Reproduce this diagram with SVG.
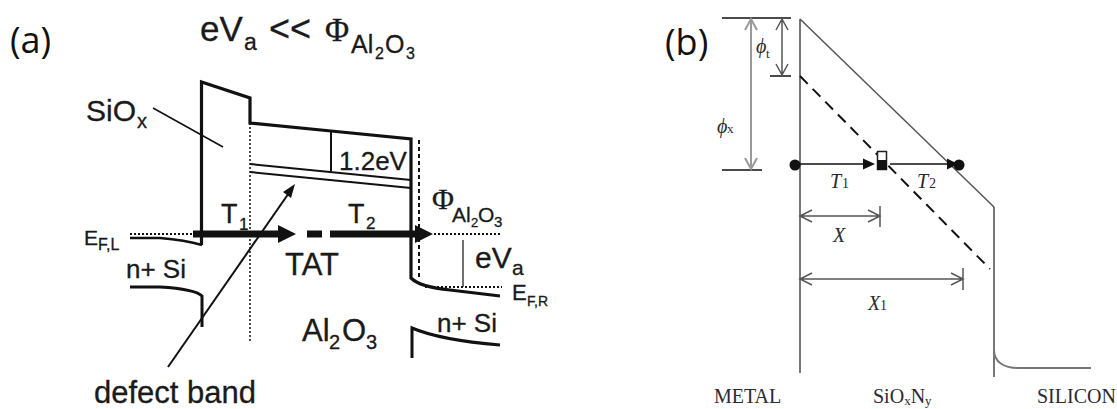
<svg xmlns="http://www.w3.org/2000/svg" width="1117" height="409" viewBox="0 0 1117 409">
<style>
.c{font-family:"Liberation Sans",Arial,sans-serif;fill:#1a1a1a;stroke:#1a1a1a;stroke-width:.3}
.p{font-family:"Liberation Serif","Times New Roman",serif;fill:#1a1a1a;stroke:#1a1a1a;stroke-width:.3}
.u{font-family:"Open Sans","Noto Sans",sans-serif;font-size:36px;fill:#111}
.t{font-family:"Liberation Serif","Times New Roman",serif;fill:#2a2a33}
.i{font-style:italic}
.k{fill:none;stroke:#111;stroke-linecap:butt;stroke-linejoin:miter}
.g{fill:none;stroke:#777;stroke-width:2}
.h{fill:none;stroke:#555;stroke-width:1.5}
.l{fill:none;stroke:#999;stroke-width:2}
</style>
<g id="panel-a">
<text class="u" x="10" y="53">(a)</text>
<text class="c" x="200" y="41" font-size="35">eV</text>
<text class="c" x="244" y="50" font-size="23">a</text>
<text class="c" x="269" y="41" font-size="36">&lt;&lt;</text>
<text class="p" x="325" y="41" font-size="33">Φ</text>
<text class="c" x="351" y="53" font-size="25">Al</text>
<text class="c" x="375" y="59" font-size="16">2</text>
<text class="c" x="385" y="53" font-size="25">O</text>
<text class="c" x="406" y="59" font-size="16">3</text>
<text class="c" x="86" y="121" font-size="30">SiO</text>
<text class="c" x="137" y="128" font-size="20">x</text>
<text class="c" x="221" y="223" font-size="27">T</text>
<text class="c" x="239" y="230" font-size="17">1</text>
<text class="c" x="348" y="223" font-size="27">T</text>
<text class="c" x="366" y="229" font-size="17">2</text>
<text class="c" x="339" y="170" font-size="26">1.2eV</text>
<text class="p" x="432" y="209" font-size="30">Φ</text>
<text class="c" x="452" y="222" font-size="21">Al</text>
<text class="c" x="471" y="227" font-size="13">2</text>
<text class="c" x="478" y="222" font-size="21">O</text>
<text class="c" x="494" y="227" font-size="15">3</text>
<text class="c" x="475" y="268" font-size="30">eV</text>
<text class="c" x="512" y="275" font-size="21">a</text>
<text class="c" x="512" y="300" font-size="22">E</text>
<text class="c" x="527" y="306" font-size="14">F,R</text>
<text class="c" x="84" y="245" font-size="21">E</text>
<text class="c" x="98" y="250" font-size="16">F,L</text>
<text class="c" x="126" y="278" font-size="26">n+ Si</text>
<text class="c" x="285" y="275" font-size="31">TAT</text>
<text class="c" x="302" y="341" font-size="31">Al</text>
<text class="c" x="329" y="349" font-size="20">2</text>
<text class="c" x="342" y="341" font-size="31">O</text>
<text class="c" x="366" y="349" font-size="20">3</text>
<text class="c" x="437" y="332" font-size="26">n+ Si</text>
<text class="c" x="94" y="402.500" font-size="31">defect band</text>
</g>
<g id="connectors-a">
<path class="k" stroke-width="3.200" d="M201.500 245V82L250 98V123L331 131L411 139V278Q420 287 450 290L500 296"/>
<path class="k" stroke-width="2" d="M250 164L411 180M250 172L411 188M331 131V171"/>
<path class="k" stroke-width="1.500" d="M153 108L223 147"/>
<path class="k" stroke-width="1.500" stroke-dasharray="2 2" d="M250 123V343"/>
<path class="k" stroke-width="2" stroke-dasharray="4 3" d="M419 140V278"/>
<path class="k" stroke-width="1.800" stroke-dasharray="2 2" d="M130 234H192M434 234H502M425 287H502"/>
<path class="k" stroke-width="2.500" d="M130 238H160Q185 240 202 245"/>
<path class="k" stroke-width="1.200" d="M463 240V287"/>
<path class="k" stroke-width="3" d="M130 287H160Q195 289 202 296V327M412 358V328Q440 340 500 345"/>
<path class="k" stroke-width="2" d="M168 367L291 190"/>
<path d="M295 184L283 192L291 198Z" fill="#111"/>
<path class="k" stroke-width="7" d="M193 234H280M307 234H322M330 234H416"/>
<path d="M278 225L296 234L278 243ZM415 225L433 234L415 243Z" fill="#111"/>
</g>
<g id="panel-b">
<text class="u" x="665" y="55">(b)</text>
<text class="t i" x="756" y="53" font-size="20">ϕ</text>
<text class="t" x="766" y="58" font-size="13">t</text>
<text class="t i" x="717" y="133" font-size="20">ϕ</text>
<text class="t" x="727" y="133" font-size="13">x</text>
<text class="t i" x="830" y="188" font-size="20">T</text>
<text class="t" x="842" y="188" font-size="14">1</text>
<text class="t i" x="917" y="188" font-size="20">T</text>
<text class="t" x="929" y="188" font-size="14">2</text>
<text class="t i" x="833" y="242" font-size="20">X</text>
<text class="t i" x="868" y="310" font-size="20">X</text>
<text class="t" x="880" y="310" font-size="14">1</text>
<text class="t" x="714" y="403" font-size="20">METAL</text>
<text class="t" x="873" y="403" font-size="20">SiO<tspan font-size="13" dy="2">x</tspan><tspan dy="-2">N</tspan><tspan font-size="13" dy="2">y</tspan></text>
<text class="t" x="1037" y="403" font-size="20">SILICON</text>
</g>
<g id="connectors-b">
<path class="g" d="M800 19V373M994 207V377M994 350C994 362 1004 368 1018 368H1091"/>
<path class="h" d="M800 19L994 207"/>
<path class="k" stroke-width="2" stroke-dasharray="11 7" d="M800 76L990 269"/>
<path class="k" stroke-width="1.300" d="M722 18H791M770 76H791M722 170H762"/>
<path class="l" d="M751 19V169M745 30L751 19L757 30M745 158L751 169L757 158"/>
<path class="h" d="M782 19V75M776 30L782 19L788 30M776 64L782 75L788 64"/>
<path class="k" stroke-width="1.300" d="M800 164H866M890 164H950"/>
<path d="M863 158.500L875 164L863 169.500ZM947 158.500L958 164L947 169.500Z" fill="#111"/>
<circle cx="795" cy="165" r="5.500" fill="#111"/>
<circle cx="959" cy="165" r="5.500" fill="#111"/>
<rect x="877.500" y="151.500" width="9" height="18" fill="#fff" stroke="#222" stroke-width="1.500"/>
<rect x="877" y="160" width="10" height="10" fill="#111"/>
<path class="h" d="M800 216H880M880 206V227M812 210L800 216L812 222M868 210L880 216L868 222M800 279H963M963 268V290M812 273L800 279L812 285M951 273L963 279L951 285"/>
</g>
</svg>
